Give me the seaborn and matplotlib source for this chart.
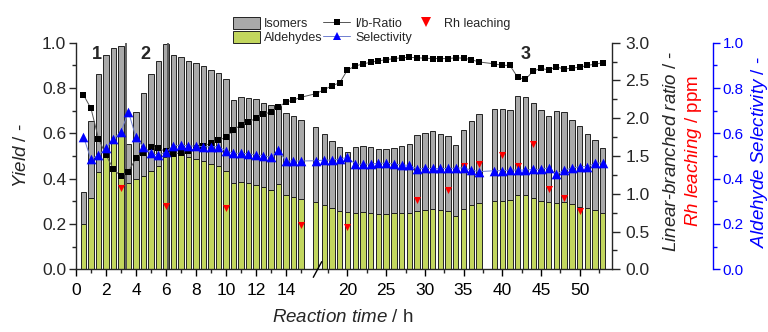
import numpy as np
import matplotlib
matplotlib.use('Agg')
import matplotlib.pyplot as plt
import seaborn as sns
from matplotlib.patches import Patch
from matplotlib.lines import Line2D
from matplotlib.ticker import FixedLocator, MultipleLocator, FormatStrFormatter

# reaction time in h (0.5 h sampling in run 1/2, hourly afterwards, no point at 38 h)
time_h = [0.5, 1.0, 1.5, 2.0, 2.5, 3.0, 3.5, 4.0, 4.5, 5.0, 5.5, 6.0, 6.5, 7.0, 7.5,
          8.0, 8.5, 9.0, 9.5, 10.0, 10.5, 11.0, 11.5, 12.0, 12.5, 13.0, 13.5, 14.0, 14.5, 15.0,
          16, 17, 18, 19, 20, 21, 22, 23, 24, 25, 26, 27, 28, 29, 30, 31, 32, 33, 34, 35, 36, 37,
          39, 40, 41, 42, 43, 44, 45, 46, 47, 48, 49, 50, 51, 52, 53]

# total yield (aldehydes + isomers)
total_yield = [0.34, 0.654, 0.862, 0.947, 0.975, 0.985, 0.552, 0.694, 0.777, 0.862, 0.92, 0.993,
               0.946, 0.935, 0.92, 0.91, 0.896, 0.88, 0.865, 0.841, 0.747, 0.76, 0.756, 0.75,
               0.735, 0.724, 0.72, 0.688, 0.678, 0.657,
               0.627, 0.596, 0.565, 0.538, 0.518, 0.541, 0.545, 0.538, 0.53, 0.53, 0.535, 0.543,
               0.553, 0.591, 0.603, 0.61, 0.598, 0.59, 0.547, 0.616, 0.654, 0.685,
               0.706, 0.706, 0.705, 0.766, 0.76, 0.734, 0.702, 0.675, 0.70, 0.693, 0.659, 0.631,
               0.598, 0.571, 0.537]

aldehyde_yield = [0.20, 0.313, 0.43, 0.494, 0.556, 0.588, 0.38, 0.397, 0.412, 0.434, 0.456, 0.497,
                  0.50, 0.504, 0.494, 0.487, 0.476, 0.463, 0.457, 0.432, 0.38, 0.384, 0.38, 0.372,
                  0.362, 0.35, 0.375, 0.328, 0.32, 0.309,
                  0.296, 0.285, 0.269, 0.259, 0.251, 0.25, 0.251, 0.247, 0.243, 0.245, 0.247, 0.248,
                  0.25, 0.257, 0.263, 0.266, 0.26, 0.256, 0.237, 0.268, 0.284, 0.293,
                  0.303, 0.303, 0.306, 0.328, 0.328, 0.316, 0.301, 0.296, 0.291, 0.298, 0.287, 0.276,
                  0.269, 0.262, 0.247]

selectivity = [0.585, 0.485, 0.504, 0.534, 0.575, 0.607, 0.695, 0.582, 0.538, 0.512, 0.503, 0.518,
               0.544, 0.549, 0.544, 0.544, 0.541, 0.541, 0.541, 0.523, 0.512, 0.512, 0.51, 0.504,
               0.502, 0.494, 0.526, 0.478, 0.478, 0.478,
               0.479, 0.482, 0.482, 0.487, 0.494, 0.465, 0.463, 0.465, 0.468, 0.468, 0.465, 0.46,
               0.459, 0.443, 0.445, 0.445, 0.445, 0.445, 0.446, 0.448, 0.438, 0.431,
               0.435, 0.435, 0.438, 0.438, 0.438, 0.441, 0.441, 0.448, 0.419, 0.438, 0.446, 0.453,
               0.453, 0.468, 0.47]

lb_ratio = [2.308, 2.13, 1.73, 1.513, 1.324, 1.235, 1.292, 1.47, 1.536, 1.615, 1.60, 1.56,
            1.527, 1.544, 1.57, 1.60, 1.635, 1.668, 1.71, 1.745, 1.844, 1.91, 1.95, 2.0,
            2.05, 2.083, 2.145, 2.215, 2.24, 2.277,
            2.325, 2.38, 2.43, 2.47, 2.64, 2.69, 2.72, 2.74, 2.76, 2.775, 2.79, 2.80,
            2.807, 2.80, 2.795, 2.79, 2.79, 2.79, 2.80, 2.795, 2.775, 2.745,
            2.72, 2.70, 2.70, 2.54, 2.515, 2.625, 2.66, 2.64, 2.68, 2.65, 2.665, 2.675,
            2.70, 2.715, 2.735]

rh_time = [3, 6, 10, 15, 20, 29, 33, 35, 37, 40, 42, 44, 46, 48, 50]
rh_ppm = [1.08, 0.838, 0.808, 0.587, 0.564, 0.918, 1.05, 1.368, 1.394, 1.513, 1.368, 1.659,
          1.059, 0.944, 0.768]

cycle_starts = [3.33, 6.17]
cycle_labels = [('1', 1.4), ('2', 4.6), ('3', 43.0)]

sns.set_theme(style='ticks')
plt.rcParams['font.family'] = ['Liberation Sans', 'DejaVu Sans']
plt.rcParams['mathtext.fontset'] = 'custom'
plt.rcParams['mathtext.rm'] = 'Liberation Sans'
plt.rcParams['mathtext.it'] = 'Liberation Sans:italic'
plt.rcParams['mathtext.bf'] = 'Liberation Sans:bold'
plt.rcParams['axes.linewidth'] = 1.0

GREY = '#a9a9a9'
GREEN = '#c2d65e'
BLUE = '#0000ff'
RED = '#ff0000'
EDGE = '#222222'

# broken time axis: 15 px per h up to ~16 h, compressed afterwards
BREAK, SLOPE = 16.1, 0.5162


def fwd(t):
    t = np.asarray(t, dtype=float)
    return np.where(t <= BREAK, t, BREAK + (t - BREAK) * SLOPE)


def inv(u):
    u = np.asarray(u, dtype=float)
    return np.where(u <= BREAK, u, BREAK + (u - BREAK) / SLOPE)


W, H = 768, 332
fig = plt.figure(figsize=(W / 100, H / 100), dpi=100)
ax = fig.add_axes([76 / W, 1 - 269.3 / H, 535.7 / W, 226.6 / H])
ax.set_xscale('function', functions=(fwd, inv))

t = np.array(time_h)
tot = np.array(total_yield)
ald = np.array(aldehyde_yield)
width = np.where(t <= 16, 0.36, 0.69)

ax.bar(t, ald, width=width, color=GREEN, edgecolor=EDGE, linewidth=0.7, zorder=2)
ax.bar(t, tot - ald, bottom=ald, width=width, color=GREY, edgecolor=EDGE, linewidth=0.7, zorder=2)
for c in cycle_starts:
    ax.axvline(c, color='#555555', lw=1.3, zorder=2.5)
for txt, tx in cycle_labels:
    ax.text(tx, 0.946, txt, ha='center', va='center', fontsize=13, fontweight='bold')

ax.set_xlim(0, 54.15)
ax.set_ylim(0, 1)

# l/b ratio + Rh leaching share the black right axis
ax2 = ax.twinx()
sns.lineplot(x=t, y=np.array(lb_ratio), ax=ax2, color='#555555', lw=0.7, sort=False,
             estimator=None, zorder=3)
sns.scatterplot(x=t, y=np.array(lb_ratio), ax=ax2, marker='s', s=20, color='black',
                linewidth=0, zorder=4)
sns.scatterplot(x=np.array(rh_time), y=np.array(rh_ppm), ax=ax2, marker='v', s=26, color=RED,
                linewidth=0, zorder=4)
ax2.set_ylim(0, 3)

ax3 = ax.twinx()
sns.lineplot(x=t, y=np.array(selectivity), ax=ax3, color='#6f7fd0', lw=0.7, sort=False,
             estimator=None, zorder=3)
sns.scatterplot(x=t, y=np.array(selectivity), ax=ax3, marker='^', s=48, color=BLUE,
                linewidth=0, zorder=4)
ax3.set_ylim(0, 1)
ax3.spines['right'].set_position(('outward', 72.7))

for a in (ax, ax2, ax3):
    a.set_xlabel('')
    a.set_ylabel('')
    a.spines['top'].set_visible(False)
ax.spines['right'].set_visible(False)
for a in (ax2, ax3):
    a.spines['left'].set_visible(False)
    a.spines['bottom'].set_visible(False)
ax3.spines['right'].set_color(BLUE)

ax.xaxis.set_major_locator(FixedLocator([0, 2, 4, 6, 8, 10, 12, 14, 20, 25, 30, 35, 40, 45, 50]))
ax.xaxis.set_minor_locator(FixedLocator([1, 3, 5, 7, 9, 11, 13, 15, 17.5, 22.5, 27.5, 32.5,
                                         37.5, 42.5, 47.5, 52.5]))
ax.xaxis.set_major_formatter(FormatStrFormatter('%d'))
ax.xaxis.set_minor_formatter(plt.NullFormatter())
ax.yaxis.set_major_locator(MultipleLocator(0.2))
ax.yaxis.set_minor_locator(MultipleLocator(0.1))
ax.yaxis.set_major_formatter(FormatStrFormatter('%.1f'))
ax2.yaxis.set_major_locator(MultipleLocator(0.5))
ax2.yaxis.set_minor_locator(MultipleLocator(0.25))
ax2.yaxis.set_major_formatter(FormatStrFormatter('%.1f'))
ax3.yaxis.set_major_locator(MultipleLocator(0.2))
ax3.yaxis.set_minor_locator(MultipleLocator(0.1))
ax3.yaxis.set_major_formatter(FormatStrFormatter('%.1f'))

ax.tick_params(axis='x', which='major', direction='out', length=5, width=1, labelsize=12.5, pad=5,
               colors='black')
ax.tick_params(axis='x', which='minor', direction='out', length=3, width=1, bottom=True)
ax.tick_params(axis='y', which='major', direction='out', length=5, width=1, labelsize=12.5, pad=2)
ax.tick_params(axis='y', which='minor', direction='out', length=3, width=1, left=True)
ax2.tick_params(axis='y', which='major', direction='out', length=6, width=1, labelsize=12.5, pad=4)
ax2.tick_params(axis='y', which='minor', direction='out', length=3.5, width=1, right=True)
ax3.tick_params(axis='y', which='major', direction='out', length=5, width=1, labelsize=11, pad=2,
                colors=BLUE)
ax3.tick_params(axis='y', which='minor', direction='out', length=3, width=1, right=True,
                colors=BLUE)

# axis break mark
fig.add_artist(Line2D([313.3 / W, 321.7 / W], [1 - 277.3 / H, 1 - 261.7 / H], color='black', lw=1))

# axis titles
fs = 13.5
fig.text(343 / W, 1 - 318 / H, r'$\mathit{Reaction\ time}$ / h', ha='center', va='center', fontsize=fs)
fig.text(22 / W, 1 - 156 / H, r'$\mathit{Yield}$ / -', ha='center', va='center', rotation=90, fontsize=fs)
fig.text(671 / W, 1 - 151 / H, r'$\mathit{Linear}$-$\mathit{branched\ ratio}$ / -', ha='center',
         va='center', rotation=90, fontsize=fs)
fig.text(693 / W, 1 - 151 / H, r'$\mathit{Rh\ leaching}$ / ppm', ha='center', va='center',
         rotation=90, fontsize=fs, color=RED)
fig.text(759 / W, 1 - 152 / H, r'$\mathit{Aldehyde\ Selectivity}$ / -', ha='center', va='center',
         rotation=90, fontsize=fs, color=BLUE)

handles = [
    Patch(facecolor=GREY, edgecolor=EDGE, linewidth=0.7),
    Patch(facecolor=GREEN, edgecolor=EDGE, linewidth=0.7),
    Line2D([], [], color='#555555', lw=0.7, marker='s', markersize=5, markerfacecolor='black',
           markeredgewidth=0),
    Line2D([], [], color='#6f7fd0', lw=0.7, marker='^', markersize=6, markerfacecolor=BLUE,
           markeredgewidth=0),
    Line2D([], [], color='none', marker='v', markersize=7, markerfacecolor=RED, markeredgewidth=0),
]
labels = ['Isomers', 'Aldehydes', 'l/b-Ratio', 'Selectivity', 'Rh leaching']
fig.legend(handles, labels, ncol=3, loc='upper left', bbox_to_anchor=(232.7 / W, 1 - 17 / H),
           frameon=False, fontsize=9, borderpad=0, borderaxespad=0, handlelength=2.16,
           handleheight=1.1, handletextpad=0.36, columnspacing=0.05, labelspacing=0.08)

fig.savefig('out.png', dpi=100)
